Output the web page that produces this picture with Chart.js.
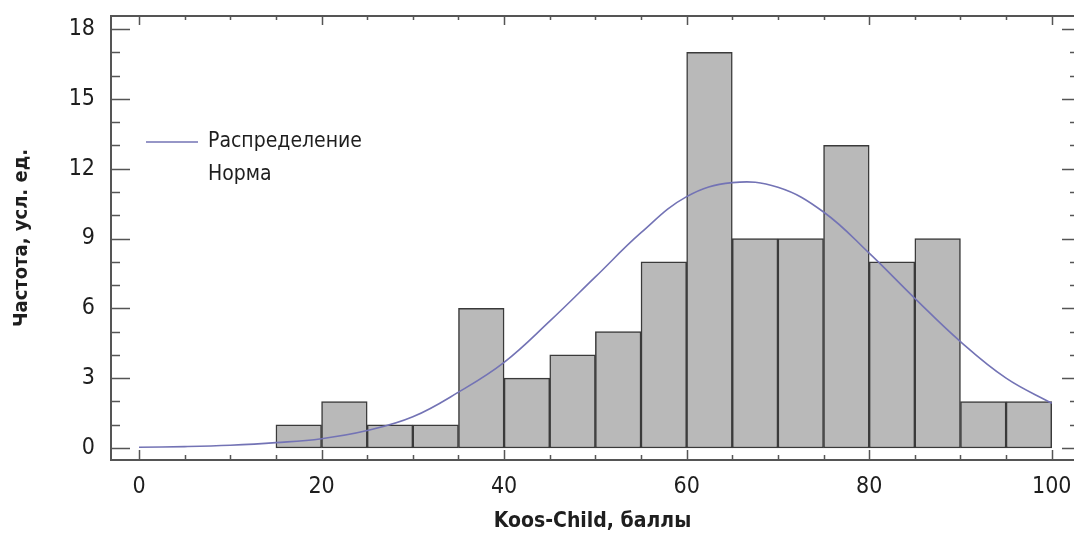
<!DOCTYPE html>
<html>
<head>
<meta charset="utf-8">
<script src="https://cdn.jsdelivr.net/npm/chart.js@4.4.1/dist/chart.umd.min.js"></script>
<style>
  html, body { margin: 0; padding: 0; background: #fff; }
  #wrap { width: 1074px; height: 534px; }
</style>
</head>
<body>
<div id="wrap"><canvas id="hist"></canvas></div>
<script>
// histogram bins (width 5) and counts
const binStarts = [15, 20, 25, 30, 35, 40, 45, 50, 55, 60, 65, 70, 75, 80, 85, 90, 95];
const counts    = [1, 2, 1, 1, 6, 3, 4, 5, 8, 17, 9, 9, 13, 8, 9, 2, 2];

// fitted normal curve
const curveX = [0, 5, 10, 15, 20, 25, 30, 35, 40, 45, 50, 55, 60, 65, 70, 75, 80, 85, 90, 95, 100];
const curveY = [0.03, 0.06, 0.12, 0.23, 0.4, 0.75, 1.34, 2.4, 3.68, 5.45, 7.35, 9.25, 10.8, 11.4, 11.2, 10.14, 8.37, 6.43, 4.57, 3.0, 1.92];

const xTicks = [0, 20, 40, 60, 80, 100];
const yTicks = [0, 3, 6, 9, 12, 15, 18];
const legendLines = ['Распределение', 'Норма'];

const FONT = '"Liberation Sans Narrow", "DejaVu Sans Condensed", sans-serif';
const TEXT = '#1e1e1e';
const FRAME = '#555';
const CURVE = '#7373b5';

// frame + inward ticks on all four sides
const framePlugin = {
  id: 'frame',
  afterDatasetsDraw(chart) {
    const ctx = chart.ctx;
    const a = chart.chartArea;
    const xs = chart.scales.x, ys = chart.scales.y;
    ctx.save();
    ctx.strokeStyle = FRAME;
    ctx.lineWidth = 1.5;
    ctx.beginPath();
    for (let v = 0; v <= 100; v += 5) {
      const px = Math.round(xs.getPixelForValue(v)) + 0.5;
      const len = v % 20 === 0 ? 10 : 5;
      ctx.moveTo(px, a.bottom); ctx.lineTo(px, a.bottom - len);
      ctx.moveTo(px, a.top); ctx.lineTo(px, a.top + (v % 20 === 0 ? 9 : 4));
    }
    for (let v = 0; v <= 18; v++) {
      const py = Math.round(ys.getPixelForValue(v)) + 0.5;
      const len = v % 3 === 0 ? 19 : 9;
      ctx.moveTo(a.left, py); ctx.lineTo(a.left + len, py);
      ctx.moveTo(a.right, py); ctx.lineTo(a.right - (v % 3 === 0 ? 12 : 4), py);
    }
    ctx.stroke();
    ctx.lineWidth = 2;
    ctx.strokeRect(a.left, a.top, a.right - a.left + 2, a.bottom - a.top);

    // legend
    const ly = 142;
    ctx.strokeStyle = CURVE;
    ctx.lineWidth = 1.6;
    ctx.beginPath();
    ctx.moveTo(146, ly); ctx.lineTo(198, ly);
    ctx.stroke();
    ctx.fillStyle = TEXT;
    ctx.font = '21px ' + FONT;
    ctx.textBaseline = 'middle';
    legendLines.forEach((t, i) => ctx.fillText(t, 208, ly + i * 33));
    ctx.restore();
  }
};

new Chart(document.getElementById('hist'), {
  data: {
    datasets: [
      {
        type: 'line',
        label: legendLines.join(' '),
        data: curveX.map((x, i) => ({ x: x, y: curveY[i] })),
        borderColor: CURVE,
        borderWidth: 1.6,
        pointRadius: 0,
        tension: 0.4,
        order: 0
      },
      {
        type: 'bar',
        label: 'Частота',
        data: binStarts.map((s, i) => ({ x: s + 2.5, y: counts[i] })),
        backgroundColor: '#b9b9b9',
        borderColor: '#3a3a3a',
        borderWidth: 1.5,
        borderSkipped: false,
        barPercentage: 1,
        categoryPercentage: 1,
        order: 1
      }
    ]
  },
  options: {
    responsive: true,
    maintainAspectRatio: false,
    animation: false,
    layout: { padding: { top: 16, left: 0, right: 0, bottom: 0 } },
    plugins: { legend: { display: false }, tooltip: { enabled: false } },
    scales: {
      x: {
        type: 'linear',
        offset: false,
        min: -3.07,
        max: 102.44,
        afterBuildTicks: s => { s.ticks = xTicks.map(v => ({ value: v })); },
        afterFit: s => { s.height = 74; s.paddingLeft = 0; s.paddingRight = 0; },
        grid: { display: false, drawTicks: false },
        border: { display: false },
        ticks: { color: TEXT, font: { family: FONT, size: 23 }, padding: 13, maxRotation: 0 },
        title: {
          display: true,
          text: 'Koos-Child, баллы',
          color: TEXT,
          font: { family: FONT, size: 21, weight: 'bold' },
          padding: { top: 0, bottom: 0 }
        }
      },
      y: {
        type: 'linear',
        min: -0.515,
        max: 18.56,
        afterBuildTicks: s => { s.ticks = yTicks.map(v => ({ value: v })); },
        afterFit: s => { s.width = 111; s.paddingTop = 0; s.paddingBottom = 0; },
        grid: { display: false, drawTicks: false },
        border: { display: false },
        ticks: { color: TEXT, font: { family: FONT, size: 23 }, padding: 16 },
        title: {
          display: true,
          text: 'Частота, усл. ед.',
          color: TEXT,
          font: { family: FONT, size: 20, weight: 'bold' },
          padding: { top: 10, bottom: 0 }
        }
      }
    }
  },
  plugins: [framePlugin]
});
</script>
</body>
</html>
